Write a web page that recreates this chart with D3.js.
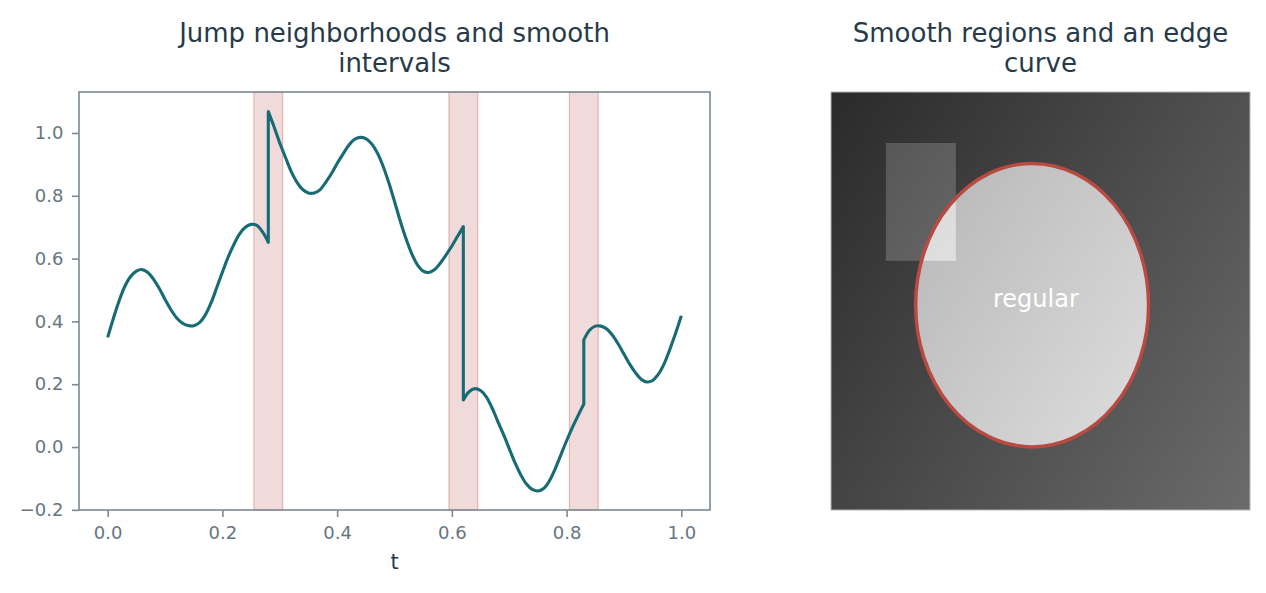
<!DOCTYPE html>
<html>
<head>
<meta charset="utf-8">
<script src="https://cdn.jsdelivr.net/npm/d3@7"></script>
<style>
  body { margin: 0; background: #fff; }
  svg { display: block; font-family: "DejaVu Sans", sans-serif; }
  .axis path, .axis line { stroke: #7b8a94; }
  .axis text { fill: #66757f; font-size: 18px; font-family: "DejaVu Sans", sans-serif; }
</style>
</head>
<body>
<div id="chart"></div>
<script>
// left panel: signal sampled on t, split at the jumps
var piece1T = [0.00,0.01,0.02,0.03,0.04,0.05,0.06,0.07,0.08,0.09,0.10,0.11,0.12,0.13,0.14,
               0.15,0.16,0.17,0.18,0.19,0.20,0.21,0.22,0.23,0.24,0.25,0.26,0.27,0.28];
var piece1Y = [0.349,0.410,0.466,0.512,0.543,0.560,0.565,0.556,0.534,0.505,0.470,0.438,0.412,0.395,0.387,
               0.386,0.396,0.420,0.458,0.507,0.557,0.605,0.645,0.679,0.700,0.709,0.706,0.685,0.652];
var piece2T = [0.28,0.29,0.30,0.31,0.32,0.33,0.34,0.35,0.36,0.37,0.38,0.39,0.40,0.41,0.42,0.43,0.44,0.45,
               0.46,0.47,0.48,0.49,0.50,0.51,0.52,0.53,0.54,0.55,0.56,0.57,0.58,0.59,0.60,0.61,0.62];
var piece2Y = [1.068,1.020,0.968,0.922,0.877,0.843,0.820,0.809,0.809,0.819,0.843,0.870,0.903,0.932,0.960,0.979,0.986,0.982,
               0.966,0.937,0.895,0.842,0.782,0.720,0.664,0.616,0.580,0.560,0.556,0.565,0.586,0.612,0.640,0.671,0.702];
var piece3T = [0.62,0.63,0.64,0.65,0.66,0.67,0.68,0.69,0.70,0.71,0.72,0.73,0.74,0.75,0.76,0.77,0.78,0.79,
               0.80,0.81,0.82,0.83];
var piece3Y = [0.150,0.176,0.186,0.180,0.160,0.125,0.082,0.040,-0.005,-0.050,-0.088,-0.118,-0.135,-0.140,-0.132,-0.108,-0.070,-0.025,
               0.020,0.062,0.100,0.137];
var piece4T = [0.83,0.84,0.85,0.86,0.87,0.88,0.89,0.90,0.91,0.92,0.93,0.94,0.95,0.96,0.97,0.98,0.99,1.00];
var piece4Y = [0.341,0.372,0.385,0.385,0.376,0.356,0.328,0.296,0.264,0.237,0.216,0.207,0.212,0.232,0.265,0.311,0.362,0.418];

// jump neighbourhoods
var bandStarts = [0.255, 0.595, 0.805];
var bandEnds   = [0.305, 0.645, 0.855];

var xTicks = [0.0, 0.2, 0.4, 0.6, 0.8, 1.0];
var yTicks = [-0.2, 0.0, 0.2, 0.4, 0.6, 0.8, 1.0];

// right panel: image coordinates run 0..1 in both directions
var regionEllipse = [0.480, 0.510, 0.278, 0.339];   // cx, cy, rx, ry
var regionRect    = [0.131, 0.122, 0.298, 0.404];   // x0, y0, x1, y1
var regionLabel   = "regular";

var titles = [["Jump neighborhoods and smooth", "intervals"], ["Smooth regions and an edge", "curve"]];

var W = 1266, H = 593;
var svg = d3.select("#chart").append("svg").attr("width", W).attr("height", H);

// ---------- left panel ----------
var left = {x0: 79, x1: 710, y0: 92, y1: 510};
var x = d3.scaleLinear().domain([-0.05, 1.05]).range([left.x0, left.x1]);
var y = d3.scaleLinear().domain([-0.2005, 1.1305]).range([left.y1, left.y0]);

var g = svg.append("g");

g.selectAll(".band")
    .data(bandStarts)
  .enter().append("rect")
    .attr("class", "band")
    .attr("x", function(d) { return x(d); })
    .attr("width", function(d, i) { return x(bandEnds[i]) - x(d); })
    .attr("y", left.y0)
    .attr("height", left.y1 - left.y0)
    .attr("fill", "#f0dada")
    .attr("stroke", "#e4b3b3")
    .attr("stroke-width", 1.2);

var line = d3.line()
    .x(function(d) { return x(d[0]); })
    .y(function(d) { return y(d[1]); })
    .curve(d3.curveCatmullRom.alpha(0.5));

var pieces = [[piece1T, piece1Y], [piece2T, piece2Y], [piece3T, piece3Y], [piece4T, piece4Y]];
var pathD = pieces.map(function(p, k) {
  var s = line(p[0].map(function(t, i) { return [t, p[1][i]]; }));
  return k === 0 ? s : "L" + s.slice(1);   // join pieces with the vertical jump
}).join("");

g.append("path")
    .attr("d", pathD)
    .attr("fill", "none")
    .attr("stroke", "#176b75")
    .attr("stroke-width", 3.1)
    .attr("stroke-linejoin", "round");

// frame
g.append("rect")
    .attr("x", left.x0).attr("y", left.y0)
    .attr("width", left.x1 - left.x0).attr("height", left.y1 - left.y0)
    .attr("fill", "none").attr("stroke", "#7b8a94").attr("stroke-width", 1.6);

g.append("g")
    .attr("class", "axis")
    .attr("transform", "translate(0," + left.y1 + ")")
    .call(d3.axisBottom(x).tickValues(xTicks).tickFormat(d3.format(".1f")).tickSize(7).tickPadding(9))
    .call(function(a) { a.attr("font-family", null).attr("font-size", null);
                        a.select(".domain").remove(); a.selectAll("line").attr("stroke-width", 1.6); });

g.append("g")
    .attr("class", "axis")
    .attr("transform", "translate(" + left.x0 + ",0)")
    .call(d3.axisLeft(y).tickValues(yTicks).tickFormat(d3.format(".1f")).tickSize(7).tickPadding(8.5))
    .call(function(a) { a.attr("font-family", null).attr("font-size", null);
                        a.select(".domain").remove(); a.selectAll("line").attr("stroke-width", 1.6); });

g.append("text")
    .attr("x", (left.x0 + left.x1) / 2).attr("y", 569)
    .attr("text-anchor", "middle")
    .attr("fill", "#263a4a")
    .style("font-size", "21px")
    .text("t");

// ---------- right panel ----------
var right = {x0: 831, x1: 1250, y0: 92, y1: 510};
var ix = d3.scaleLinear().domain([0, 1]).range([right.x0, right.x1]);
var iy = d3.scaleLinear().domain([0, 1]).range([right.y0, right.y1]);

// intensity grows to the lower right, more along x than y
var defs = svg.append("defs");
var wx = 0.6, wy = 0.4, nn = wx * wx + wy * wy;
var base0 = 42, base1 = 107;
function grad(id, add) {
  var lg = defs.append("linearGradient").attr("id", id)
      .attr("gradientUnits", "userSpaceOnUse")
      .attr("x1", right.x0).attr("y1", right.y0)
      .attr("x2", right.x0 + (right.x1 - right.x0) * wx / nn)
      .attr("y2", right.y0 + (right.y1 - right.y0) * wy / nn);
  [0, 1].forEach(function(o) {
    var v = Math.min(255, (o ? base1 : base0) + add);
    lg.append("stop").attr("offset", o).attr("stop-color", d3.rgb(v, v, v));
  });
}
grad("gBg", 0);
grad("gRect", 37);
grad("gEll", 128);
grad("gBoth", 165);

defs.append("clipPath").attr("id", "ellClip")
  .append("ellipse")
    .attr("cx", ix(regionEllipse[0])).attr("cy", iy(regionEllipse[1]))
    .attr("rx", ix(regionEllipse[2]) - ix(0)).attr("ry", iy(regionEllipse[3]) - iy(0));

var r = svg.append("g");
r.append("rect")
    .attr("x", right.x0).attr("y", right.y0)
    .attr("width", right.x1 - right.x0).attr("height", right.y1 - right.y0)
    .attr("fill", "url(#gBg)");

function regionRectEl(sel, fill) {
  return sel.append("rect")
      .attr("x", ix(regionRect[0])).attr("y", iy(regionRect[1]))
      .attr("width", ix(regionRect[2]) - ix(regionRect[0]))
      .attr("height", iy(regionRect[3]) - iy(regionRect[1]))
      .attr("fill", fill);
}
regionRectEl(r, "url(#gRect)");

r.append("ellipse")
    .attr("cx", ix(regionEllipse[0])).attr("cy", iy(regionEllipse[1]))
    .attr("rx", ix(regionEllipse[2]) - ix(0)).attr("ry", iy(regionEllipse[3]) - iy(0))
    .attr("fill", "url(#gEll)");

regionRectEl(r, "url(#gBoth)").attr("clip-path", "url(#ellClip)");

r.append("ellipse")
    .attr("cx", ix(regionEllipse[0])).attr("cy", iy(regionEllipse[1]))
    .attr("rx", ix(regionEllipse[2]) - ix(0)).attr("ry", iy(regionEllipse[3]) - iy(0))
    .attr("fill", "none")
    .attr("stroke", "#b84a42")
    .attr("stroke-width", 3.5);

r.append("text")
    .attr("x", ix(0.489)).attr("y", iy(0.515))
    .attr("text-anchor", "middle")
    .attr("fill", "#ffffff")
    .style("font-size", "24px")
    .text(regionLabel);

r.append("rect")
    .attr("x", right.x0).attr("y", right.y0)
    .attr("width", right.x1 - right.x0).attr("height", right.y1 - right.y0)
    .attr("fill", "none").attr("stroke", "#aab5bd").attr("stroke-width", 1);

// ---------- titles ----------
[[left.x0, left.x1], [right.x0, right.x1]].forEach(function(ext, k) {
  var t = svg.append("text")
      .attr("text-anchor", "middle")
      .attr("fill", "#263a4a")
      .style("font-size", "26px");
  titles[k].forEach(function(s, j) {
    t.append("tspan")
        .attr("x", (ext[0] + ext[1]) / 2)
        .attr("y", 41.7 + j * 30)
        .text(s);
  });
});
</script>
</body>
</html>
